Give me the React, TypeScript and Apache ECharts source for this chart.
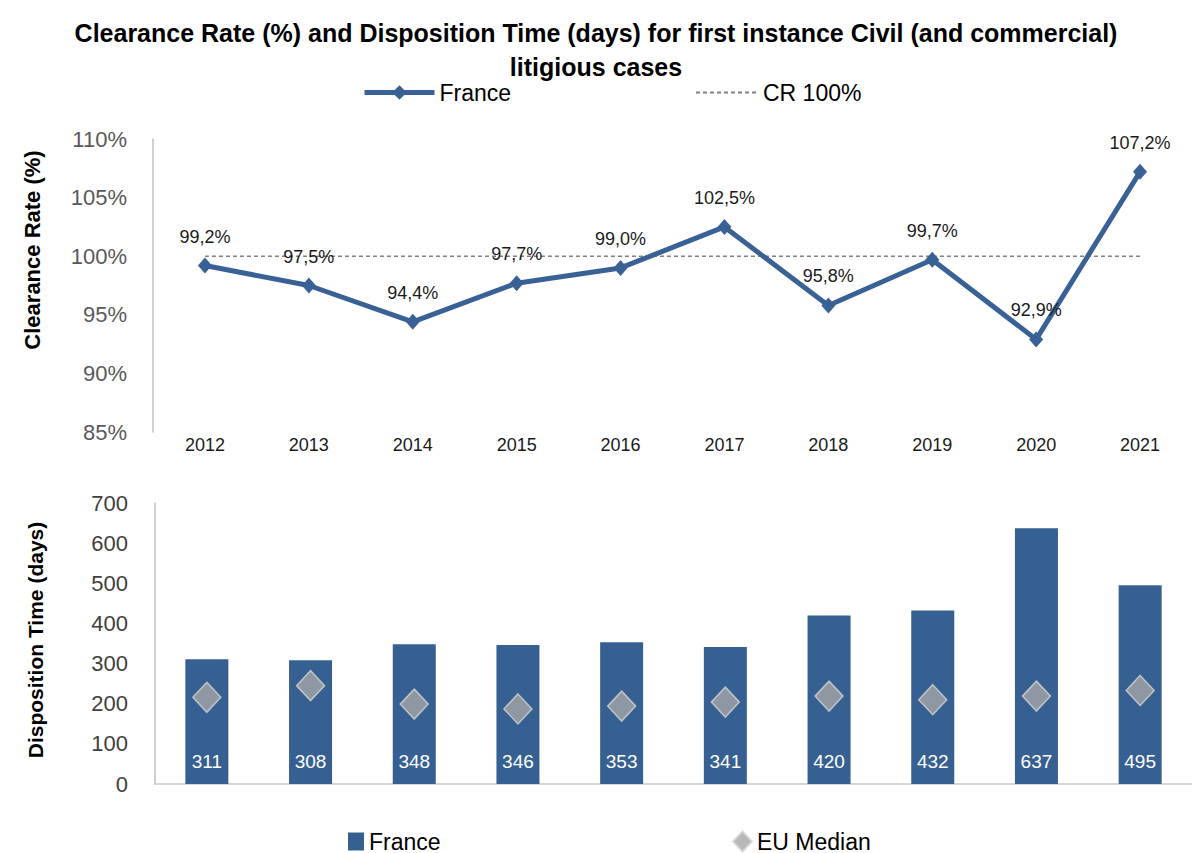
import React, { useEffect, useRef } from 'react';
import * as echarts from 'echarts';

const years = ['2012', '2013', '2014', '2015', '2016', '2017', '2018', '2019', '2020', '2021'];
const clearanceRate = [99.2, 97.5, 94.4, 97.7, 99.0, 102.5, 95.8, 99.7, 92.9, 107.2];
const crReference = [100, 100, 100, 100, 100, 100, 100, 100, 100, 100];
const dispositionTime = [311, 308, 348, 346, 353, 341, 420, 432, 637, 495];
const euMedian = [216, 245, 199, 187, 194, 204, 219, 210, 219, 233];
const crAxis = { min: 85, max: 110, interval: 5 };
const dtAxis = { min: 0, max: 700, interval: 100 };

const TITLE = 'Clearance Rate (%) and Disposition Time (days) for first instance Civil (and commercial)\nlitigious cases';

const BLUE_LINE = '#3a6195';
const BLUE_BAR = '#366092';
const GREY_DIAMOND = '#a6a6a6';
const FONT = '"Liberation Sans", Arial, sans-serif';

export default function App() {
  const ref = useRef<HTMLDivElement>(null);

  useEffect(() => {
    document.body.style.margin = '0';
    const chart = echarts.init(ref.current!, null, { renderer: 'svg' });
    const option: any = {
      animation: false,
      backgroundColor: '#ffffff',
      textStyle: { fontFamily: FONT },
      title: {
        text: TITLE,
        left: 'center',
        top: 11,
        textStyle: { fontFamily: FONT, fontWeight: 'bold', fontSize: 25, lineHeight: 34, color: '#000' },
      },
      legend: [
        {
          data: ['France'],
          left: 357,
          top: 76,
          itemWidth: 70,
          itemHeight: 18,
          lineStyle: { width: 5 },
          textStyle: { fontSize: 23, color: '#000', fontFamily: FONT },
        },
        {
          data: ['CR 100%'],
          left: 690,
          top: 76,
          itemWidth: 62,
          itemHeight: 14,
          textStyle: { fontSize: 23, color: '#000', fontFamily: FONT },
        },
        {
          data: [{ name: 'France', icon: 'rect', itemStyle: { color: BLUE_BAR, borderWidth: 0 } }],
          left: 343,
          top: 825,
          itemWidth: 16,
          itemHeight: 18,
          textStyle: { fontSize: 23, color: '#000', fontFamily: FONT },
        },
        {
          data: ['EU Median'],
          left: 727,
          top: 825,
          itemWidth: 19,
          itemHeight: 20,
          textStyle: { fontSize: 23, color: '#000', fontFamily: FONT },
        },
      ],
      grid: [
        { left: 153, top: 139, width: 1039, height: 293 },
        { left: 155, top: 503, width: 1037, height: 281 },
      ],
      xAxis: [
        {
          type: 'category',
          gridIndex: 0,
          data: years,
          axisLine: { show: false },
          axisTick: { show: false },
          axisLabel: { color: '#1a1a1a', fontSize: 18, margin: 4, fontFamily: FONT },
        },
        {
          type: 'category',
          gridIndex: 1,
          data: years,
          axisLine: { show: true, lineStyle: { color: '#c8c8c8', width: 1.5 } },
          axisTick: { show: false },
          axisLabel: { show: false },
        },
      ],
      yAxis: [
        {
          type: 'value',
          gridIndex: 0,
          min: crAxis.min,
          max: crAxis.max,
          interval: crAxis.interval,
          splitLine: { show: false },
          axisLine: { show: true, lineStyle: { color: '#c0c0c0', width: 1.5 } },
          axisTick: { show: false },
          axisLabel: { color: '#595959', fontSize: 22, margin: 26, formatter: (v: number) => `${v}%`, fontFamily: FONT },
        },
        {
          type: 'value',
          gridIndex: 1,
          min: dtAxis.min,
          max: dtAxis.max,
          interval: dtAxis.interval,
          splitLine: { show: false },
          axisLine: { show: true, lineStyle: { color: '#c0c0c0', width: 1.5 } },
          axisTick: { show: false },
          axisLabel: { color: '#404040', fontSize: 22, margin: 27, fontFamily: FONT },
        },
      ],
      series: [
        {
          name: 'France',
          type: 'line',
          xAxisIndex: 0,
          yAxisIndex: 0,
          data: clearanceRate,
          symbol: 'diamond',
          symbolSize: [14, 16],
          z: 3,
          lineStyle: { color: BLUE_LINE, width: 5 },
          itemStyle: { color: BLUE_LINE },
          label: {
            show: true,
            position: 'top',
            distance: 12,
            color: '#1a1a1a',
            fontSize: 18,
            fontFamily: FONT,
            formatter: (p: any) => `${Number(p.value).toFixed(1).replace('.', ',')}%`,
          },
        },
        {
          name: 'CR 100%',
          type: 'line',
          xAxisIndex: 0,
          yAxisIndex: 0,
          data: crReference,
          showSymbol: false,
          symbol: 'circle',
          z: 2,
          lineStyle: { color: '#808080', width: 1.5, type: [4, 3] },
          itemStyle: { color: 'rgba(0,0,0,0)' },
        },
        {
          name: 'France',
          type: 'bar',
          xAxisIndex: 1,
          yAxisIndex: 1,
          data: dispositionTime,
          barWidth: 43,
          itemStyle: { color: BLUE_BAR },
          label: {
            show: true,
            position: 'insideBottom',
            distance: 13,
            color: '#ffffff',
            fontSize: 19,
            fontFamily: FONT,
          },
        },
        {
          name: 'EU Median',
          type: 'scatter',
          xAxisIndex: 1,
          yAxisIndex: 1,
          data: euMedian,
          symbol: 'diamond',
          symbolSize: [28, 30],
          itemStyle: { color: GREY_DIAMOND, borderColor: '#d4d4d4', borderWidth: 1.5 },
          z: 4,
        },
      ],
      graphic: [
        {
          type: 'text',
          x: 32,
          y: 250,
          rotation: Math.PI / 2,
          style: {
            text: 'Clearance Rate (%)',
            font: `bold 22px ${FONT}`,
            fill: '#000',
            textAlign: 'center',
            textVerticalAlign: 'middle',
          },
        },
        {
          type: 'text',
          x: 35,
          y: 640,
          rotation: Math.PI / 2,
          style: {
            text: 'Disposition Time (days)',
            font: `bold 21px ${FONT}`,
            fill: '#000',
            textAlign: 'center',
            textVerticalAlign: 'middle',
          },
        },
      ],
    };
    chart.setOption(option);
    return () => chart.dispose();
  }, []);

  return <div ref={ref} style={{ position: 'fixed', left: 0, top: 0, width: 1192, height: 853 }} />;
}
